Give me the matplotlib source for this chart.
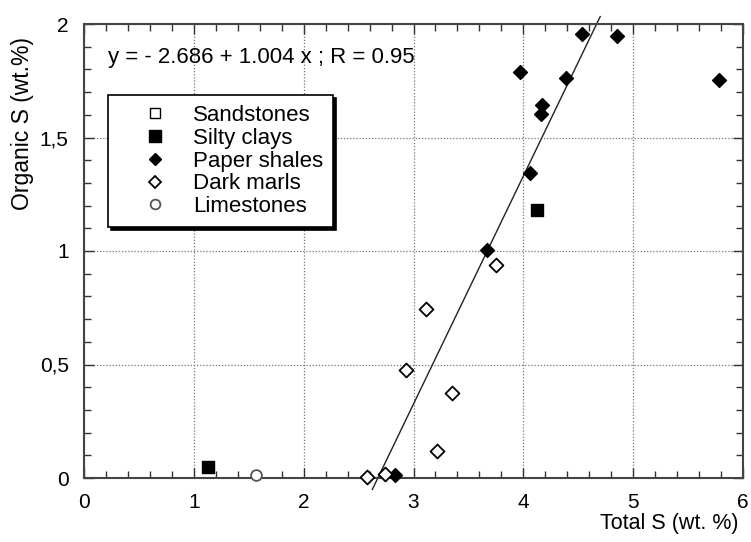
import numpy as np
import matplotlib
matplotlib.use("Agg")
import matplotlib.pyplot as plt
from matplotlib.ticker import MultipleLocator, FuncFormatter
from matplotlib.lines import Line2D

plt.rcParams['font.family'] = ['Liberation Sans', 'DejaVu Sans']

# data
sandstones_x = []
sandstones_y = []
silty_x = [1.13, 4.12]
silty_y = [0.05, 1.18]
shales_x = [2.83, 3.67, 4.06, 4.17, 4.16, 3.97, 4.39, 4.53, 4.85, 5.78]
shales_y = [0.015, 1.005, 1.345, 1.645, 1.605, 1.79, 1.76, 1.955, 1.945, 1.755]
marls_x = [2.58, 2.74, 2.93, 3.11, 3.35, 3.21, 3.75]
marls_y = [0.005, 0.016, 0.475, 0.745, 0.375, 0.117, 0.94]
lime_x = [1.57]
lime_y = [0.015]

intercept = -2.686
slope = 1.004
fit_x = np.array([2.625, 4.70])

fig = plt.figure(figsize=(7.51, 5.42), dpi=100)
ax = fig.add_axes([84/751, 1 - 478/542, (743-84)/751, (478-24)/542])

ax.plot(fit_x, intercept + slope * fit_x, color='#222222', lw=1.0, clip_on=False, zorder=2)

ax.scatter(sandstones_x, sandstones_y, marker='s', s=60, facecolors='white', edgecolors='black', lw=1.0, zorder=3, clip_on=False)
ax.scatter(silty_x, silty_y, marker='s', s=80, color='black', zorder=3, clip_on=False)
ax.scatter(shales_x, shales_y, marker='D', s=50, color='black', zorder=3, clip_on=False)
ax.scatter(marls_x, marls_y, marker='D', s=50, facecolors='white', edgecolors='black', lw=1.3, zorder=3, clip_on=False)
ax.scatter(lime_x, lime_y, marker='o', s=60, facecolors='white', edgecolors='#555555', lw=1.3, zorder=3, clip_on=False)

ax.set_xlim(0, 6)
ax.set_ylim(0, 2)
ax.xaxis.set_major_locator(MultipleLocator(1))
ax.xaxis.set_minor_locator(MultipleLocator(0.2))
ax.yaxis.set_major_locator(MultipleLocator(0.5))
ax.yaxis.set_minor_locator(MultipleLocator(0.1))
ax.yaxis.set_major_formatter(FuncFormatter(lambda v, p: ('%g' % v).replace('.', ',')))
ax.tick_params(which='both', direction='in', top=True, right=True, width=1.0, color='#333333')
ax.tick_params(which='major', length=7, labelsize=15, pad=11)
ax.tick_params(which='minor', length=5)
for s in ax.spines.values():
    s.set_linewidth(1.5)
    s.set_color('#444444')
ax.grid(True, which='major', linestyle=(0, (1, 1.5)), color='#777777', lw=0.9)

fig.text(23/751, 1 - 123/542, 'Organic S (wt.%)', rotation=90, ha='center', va='center', fontsize=16.5)
fig.text(738/751, 1 - 524/542, 'Total S (wt. %)', ha='right', va='center', fontsize=15.5)

fig.text(108/751, 1 - 57/542, 'y = - 2.686 + 1.004 x ; R = 0.95', ha='left', va='center', fontsize=16)

handles = [
    Line2D([], [], ls='none', marker='s', ms=7, mfc='white', mec='black', label='Sandstones'),
    Line2D([], [], ls='none', marker='s', ms=8, mfc='black', mec='black', label='Silty clays'),
    Line2D([], [], ls='none', marker='D', ms=6, mfc='black', mec='black', label='Paper shales'),
    Line2D([], [], ls='none', marker='D', ms=6, mfc='white', mec='black', mew=1.3, label='Dark marls'),
    Line2D([], [], ls='none', marker='o', ms=7, mfc='white', mec='#555555', mew=1.3, label='Limestones'),
]
leg = ax.legend(handles=handles, loc='upper left', bbox_to_anchor=((108-84)/659, (478-95)/454),
                fontsize=16, frameon=True, fancybox=False, shadow={'color': 'black', 'alpha': 1},
                edgecolor='black', borderpad=0.45, labelspacing=0.08, handletextpad=0.05,
                handlelength=3.33, borderaxespad=0)
leg.get_frame().set_linewidth(1.2)

fig.savefig('out.png', dpi=100)
